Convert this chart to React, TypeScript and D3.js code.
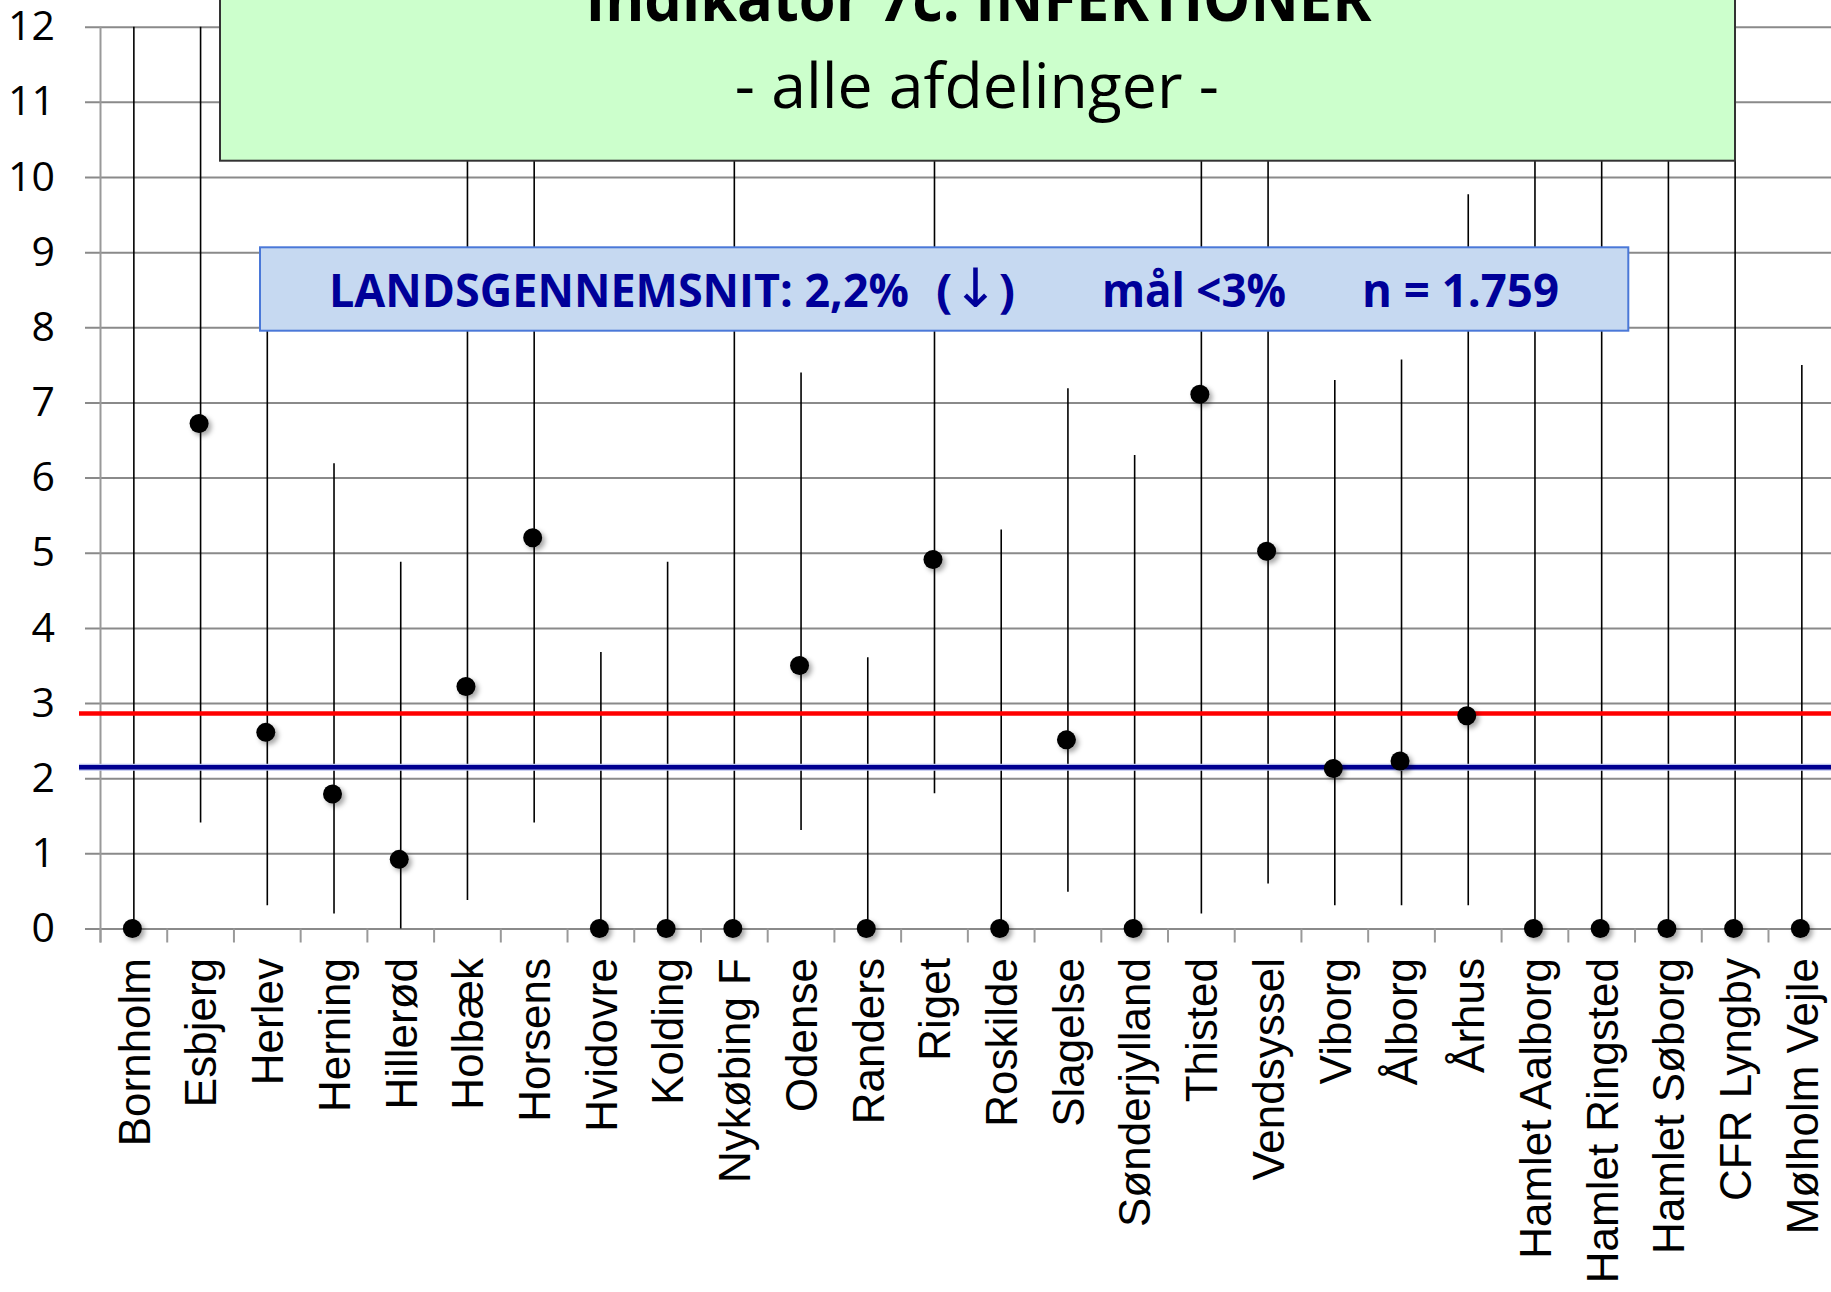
import React from "react";
import * as d3 from "d3";

// afdelinger (x-akse)
const categories = [
  "Bornholm", "Esbjerg", "Herlev", "Herning", "Hillerød", "Holbæk", "Horsens",
  "Hvidovre", "Kolding", "Nykøbing F", "Odense", "Randers", "Riget", "Roskilde",
  "Slagelse", "Sønderjylland", "Thisted", "Vendsyssel", "Viborg", "Ålborg", "Århus",
  "Hamlet Aalborg", "Hamlet Ringsted", "Hamlet Søborg", "CFR Lyngby", "Mølholm Vejle",
];
// infektionsrate i % (punkter)
const rates = [
  0, 6.72, 2.61, 1.79, 0.92, 3.22, 5.2, 0, 0, 0, 3.5, 0, 4.91, 0, 2.51, 0, 7.11, 5.02,
  2.13, 2.23, 2.83, 0, 0, 0, 0, 0,
];
// konfidensinterval nedre / øvre
const lower = [
  0, 1.41, 0.31, 0.2, 0, 0.38, 1.41, 0, 0, 0, 1.31, 0, 1.8, 0, 0.49, 0, 0.2, 0.6,
  0.31, 0.31, 0.31, 0, 0, 0, 0, 0,
];
const upper = [
  12, 12, 8.5, 6.19, 4.88, 12, 12, 3.68, 4.88, 12, 7.4, 3.61, 12, 5.31, 7.19, 6.3, 12, 12,
  7.3, 7.57, 9.77, 12, 12, 12, 12, 7.5,
];
const yTicks = [0, 1, 2, 3, 4, 5, 6, 7, 8, 9, 10, 11, 12];
const nationalAverage = 2.145; // landsgennemsnit (blå linje)
const goal = 2.86; // mål (rød linje)

const W = 1831;
const H = 1292;

const App = () => {
  const svgRef = React.useRef<SVGSVGElement>(null);

  React.useEffect(() => {
    const xScale = d3.scaleBand().domain(categories).range([100.5, 1835.2]);
    const yScale = d3.scaleLinear().domain([0, 12]).range([928.5, 26.7]);
    const cx = (c: string) => (xScale(c) as number) + xScale.bandwidth() / 2;

    const svg = d3.select(svgRef.current);
    svg.selectAll("*").remove();

    const defs = svg.append("defs");
    const f = defs.append("filter").attr("id", "shadow").attr("x", "-50%").attr("y", "-50%")
      .attr("width", "200%").attr("height", "200%");
    f.append("feDropShadow").attr("dx", 3).attr("dy", 3).attr("stdDeviation", 2.5)
      .attr("flood-color", "#000").attr("flood-opacity", 0.35);

    svg.append("rect").attr("width", W).attr("height", H).attr("fill", "#fff");

    // gitterlinjer + y-akse
    const yAxis = d3.axisLeft(yScale).tickValues(yTicks).tickSize(-(W - 85)).tickPadding(30)
      .tickFormat((d) => String(d));
    const yg = svg.append("g").attr("transform", "translate(85,0)").call(yAxis);
    yg.select(".domain").remove();
    yg.selectAll("line").attr("stroke", "#8a8a8a").attr("stroke-width", 2);
    yg.selectAll("text")
      .attr("font-family", "'Open Sans', sans-serif")
      .attr("font-size", 41)
      .attr("fill", "#000");

    svg.append("line")
      .attr("x1", 100.5).attr("x2", 100.5)
      .attr("y1", yScale(12)).attr("y2", yScale(0) + 14)
      .attr("stroke", "#999").attr("stroke-width", 2);

    // kategori-streger under aksen
    const bounds = categories.map((c) => xScale(c) as number);
    svg.append("g").selectAll("line").data(bounds).join("line")
      .attr("x1", (d) => d).attr("x2", (d) => d)
      .attr("y1", yScale(0)).attr("y2", yScale(0) + 14)
      .attr("stroke", "#999").attr("stroke-width", 2);

    // konfidensintervaller
    svg.append("g").selectAll("line").data(categories).join("line")
      .attr("x1", (c) => cx(c)).attr("x2", (c) => cx(c))
      .attr("y1", (_, i) => yScale(lower[i]))
      .attr("y2", (_, i) => yScale(upper[i]))
      .attr("stroke", "#000").attr("stroke-width", 1.6);

    // mål og landsgennemsnit
    svg.append("line")
      .attr("x1", 79).attr("x2", W)
      .attr("y1", yScale(goal)).attr("y2", yScale(goal))
      .attr("stroke", "#ff0000").attr("stroke-width", 4.5);
    svg.append("line")
      .attr("x1", 79).attr("x2", W)
      .attr("y1", yScale(nationalAverage)).attr("y2", yScale(nationalAverage))
      .attr("stroke", "#b8c0ec").attr("stroke-width", 7);
    svg.append("line")
      .attr("x1", 79).attr("x2", W)
      .attr("y1", yScale(nationalAverage)).attr("y2", yScale(nationalAverage))
      .attr("stroke", "#000090").attr("stroke-width", 4.5);

    // punkter
    svg.append("g").attr("filter", "url(#shadow)")
      .selectAll("circle").data(categories).join("circle")
      .attr("cx", (c) => cx(c) - 1.5)
      .attr("cy", (_, i) => yScale(rates[i]))
      .attr("r", 9.5)
      .attr("fill", "#000");

    // kategori-labels
    svg.append("g").selectAll("text").data(categories).join("text")
      .attr("transform", (c) => `translate(${cx(c)},958) rotate(-90)`)
      .attr("text-anchor", "end")
      .attr("dy", "0.36em")
      .attr("font-family", "'Liberation Sans', Arial, sans-serif")
      .attr("font-size", 44)
      .attr("fill", "#000")
      .text((c) => c);

    // titelboks
    svg.append("rect")
      .attr("x", 220).attr("y", -10).attr("width", 1735 - 220).attr("height", 160.7 + 10)
      .attr("fill", "#ccffcc").attr("stroke", "#333").attr("stroke-width", 2);
    svg.append("text")
      .attr("x", 585.5).attr("y", 20.7)
      .attr("textLength", 786).attr("lengthAdjust", "spacingAndGlyphs")
      .attr("font-family", "'Open Sans', sans-serif").attr("font-weight", 700)
      .attr("font-size", 62).attr("fill", "#000")
      .text("Indikator 7c: INFEKTIONER");
    svg.append("text")
      .attr("x", 734.8).attr("y", 108.3)
      .attr("textLength", 484).attr("lengthAdjust", "spacingAndGlyphs")
      .attr("font-family", "'Open Sans', sans-serif")
      .attr("font-size", 62).attr("fill", "#000")
      .text("- alle afdelinger -");

    // landsgennemsnit-boks
    svg.append("rect")
      .attr("x", 260).attr("y", 247.3).attr("width", 1628.3 - 260).attr("height", 330.7 - 247.3)
      .attr("fill", "#c6d9f1").attr("stroke", "#4a78d8").attr("stroke-width", 2);
    const parts = [
      { t: "LANDSGENNEMSNIT: 2,2%", x0: 329, x1: 909 },
      { t: "mål <3%", x0: 1102, x1: 1286 },
      { t: "n = 1.759", x0: 1362, x1: 1559 },
    ];
    const boxText = svg.append("g")
      .attr("font-family", "'Open Sans', sans-serif").attr("font-weight", 700)
      .attr("font-size", 47).attr("fill", "#000099");
    boxText.selectAll("text").data(parts).join("text")
      .attr("x", (d) => d.x0).attr("y", 306.7)
      .attr("textLength", (d) => d.x1 - d.x0).attr("lengthAdjust", "spacingAndGlyphs")
      .text((d) => d.t);
    // (↓) med en tydelig pil
    const arrow = boxText.append("text").attr("x", 936).attr("y", 306.7)
      .attr("textLength", 79).attr("lengthAdjust", "spacingAndGlyphs");
    arrow.append("tspan").text("(");
    arrow.append("tspan").attr("font-family", "'DejaVu Sans', sans-serif")
      .attr("font-size", 54).attr("font-weight", 400).text("↓");
    arrow.append("tspan").text(")");
  }, []);

  return (
    <svg
      ref={svgRef}
      width={W}
      height={H}
      style={{ position: "absolute", left: 0, top: 0, display: "block" }}
    />
  );
};

export default App;
